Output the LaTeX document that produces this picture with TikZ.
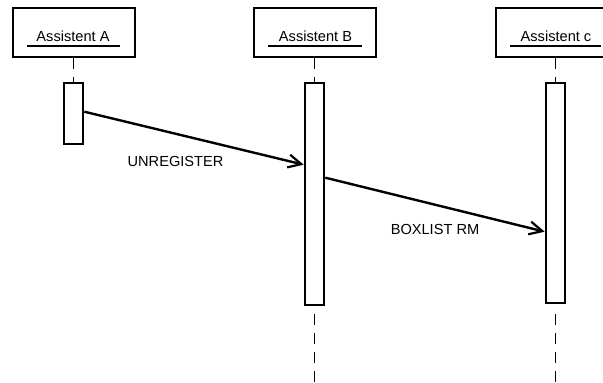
\documentclass[tikz,border=0pt]{standalone}
\usepackage{fontspec}
\setmainfont{Liberation Sans}
\usetikzlibrary{arrows.meta,calc}

\tikzset{
  actor/.style={draw, line width=2.6pt, minimum width=122pt, minimum height=49pt, inner sep=0pt, fill=white},
  actlabel/.style={inner sep=0pt, font=\fontsize{14.6}{16}\selectfont},
  underl/.style={line width=1.3pt},
  activation/.style={draw, line width=2.6pt, minimum width=19pt, inner sep=0pt, fill=white},
  lifeline/.style={line width=1.3pt, dash pattern=on 11pt off 8pt},
  message/.style={line width=2.4pt, -{Straight Barb[length=13pt,width=13pt,line width=2.2pt]}},
  msglabel/.style={inner sep=0pt, font=\fontsize{14.6}{16}\selectfont}
}

\begin{document}
\begin{tikzpicture}[x=1pt, y=-1pt]
  \useasboundingbox (0,0) rectangle (603,383);
  \clip (0,0) rectangle (603,383);

  % participant heads
  \node[actor] (boxA) at (74,32.5) {};
  \node[actor] (boxB) at (315,32.5) {};
  \node[actor] (boxC) at (557,32.5) {};

  \node[actlabel] (labA) at (73,36) {Assistent A};
  \node[actlabel] (labB) at (315.5,36) {Assistent B};
  \node[actlabel] (labC) at (556,36) {Assistent c};

  \draw[underl] (27,46) -- (120,46);
  \draw[underl] (268,46) -- (362,46);
  \draw[underl] (510,46) -- (601,46);

  % activation bars
  \node[activation, minimum height=61pt] (actA) at (73.5,113.5) {};
  \node[activation, minimum height=222pt] (actB) at (314.5,194) {};
  \node[activation, minimum height=220pt] (actC) at (555.5,193) {};

  % lifelines
  \draw[lifeline] (boxA.south -| actA.north) -- (actA.north);
  \draw[lifeline] (boxB.south -| actB.north) -- (actB.north);
  \draw[lifeline] (boxC.south -| actC.north) -- (actC.north);

  \coordinate (endB) at (314.5,383);
  \coordinate (endC) at (555.5,383);
  \draw[lifeline] ($(actB.south)+(0,8)$) -- (endB);
  \draw[lifeline] ($(actC.south)+(0,10)$) -- (endC);

  % messages
  \coordinate (m1s) at ($(actA.north east)+(0,30)$);
  \coordinate (m1e) at ($(actB.north west)+(0,83)$);
  \coordinate (m2s) at ($(actB.north east)+(0,96)$);
  \coordinate (m2e) at ($(actC.north west)+(0,150)$);

  \draw[message] (m1s) -- (m1e);
  \draw[message] (m2s) -- (m2e);

  \node[msglabel] (l1) at (175.5,161.5) {UNREGISTER};
  \node[msglabel] (l2) at (435,229) {BOXLIST RM};
\end{tikzpicture}
\end{document}
